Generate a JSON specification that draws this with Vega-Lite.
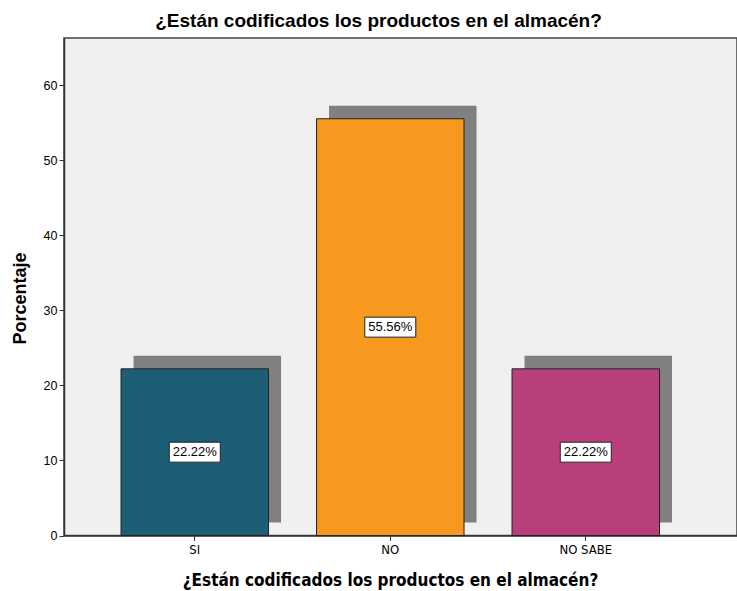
{
  "$schema": "https://vega.github.io/schema/vega-lite/v6.json",
  "autosize": "none",
  "width": 673,
  "height": 497.5,
  "padding": {"left": 64, "top": 38, "right": 0, "bottom": 55.5},
  "background": "white",
  "title": {
    "text": "¿Están codificados los productos en el almacén?",
    "font": "Liberation Sans",
    "fontSize": 19,
    "fontWeight": "bold",
    "color": "#000000",
    "anchor": "middle",
    "dx": -22,
    "offset": 7
  },
  "config": {
    "view": {"fill": "#f0f0f0", "stroke": "#444444", "strokeWidth": 1.5},
    "axis": {"grid": false, "domainColor": "#333333", "tickColor": "#333333", "labelColor": "#000000", "titleColor": "#000000"}
  },
  "data": {
    "values": [
      {"respuesta": "SI", "porcentaje": 22.22, "etiqueta": "22.22%"},
      {"respuesta": "NO", "porcentaje": 55.56, "etiqueta": "55.56%"},
      {"respuesta": "NO SABE", "porcentaje": 22.22, "etiqueta": "22.22%"}
    ]
  },
  "encoding": {
    "x": {
      "field": "respuesta",
      "type": "nominal",
      "sort": ["SI", "NO", "NO SABE"],
      "scale": {"paddingInner": 0.2455, "paddingOuter": 0.344, "align": 0.424},
      "axis": {
        "title": "¿Están codificados los productos en el almacén?",
        "titleFont": "DejaVu Sans Condensed, Liberation Sans",
        "titleFontSize": 17,
        "titleFontWeight": "bold",
        "titleX": 326,
        "titleY": 45,
        "titleBaseline": "middle",
        "labelAngle": 0,
        "labelFont": "DejaVu Sans Condensed, Liberation Sans",
        "labelFontSize": 13,
        "labelPadding": 3,
        "tickSize": 5,
        "domainWidth": 1.5
      }
    }
  },
  "layer": [
    {
      "mark": {"type": "bar", "color": "#808080", "xOffset": 12.5, "x2Offset": 12.5, "yOffset": -13, "y2Offset": -13},
      "encoding": {
        "y": {"field": "porcentaje", "type": "quantitative"}
      }
    },
    {
      "mark": {"type": "bar", "stroke": "#222222", "strokeWidth": 1},
      "encoding": {
        "y": {
          "field": "porcentaje",
          "type": "quantitative",
          "scale": {"domain": [0, 66.33], "nice": false},
          "axis": {
            "title": "Porcentaje",
            "titleFont": "Liberation Sans",
            "titleFontSize": 18,
            "titleFontWeight": "bold",
            "titleX": -44,
            "titleY": 260,
            "titleAngle": -90,
            "titleAlign": "center",
            "titleBaseline": "middle",
            "values": [0, 10, 20, 30, 40, 50, 60],
            "labelFont": "Liberation Sans",
            "labelFontSize": 12.5,
            "labelPadding": 2,
            "tickSize": 5,
            "domainWidth": 1.5
          }
        },
        "color": {
          "field": "respuesta",
          "type": "nominal",
          "scale": {"domain": ["SI", "NO", "NO SABE"], "range": ["#1c5e75", "#f7991f", "#b83f7a"]},
          "legend": null
        }
      }
    },
    {
      "transform": [{"calculate": "datum.porcentaje / 2", "as": "mitad"}],
      "mark": {"type": "point", "shape": "M-1,-0.392L1,-0.392L1,0.392L-1,0.392Z", "size": 2601, "filled": true, "fill": "white", "stroke": "#222222", "strokeWidth": 1, "opacity": 1},
      "encoding": {
        "y": {"field": "mitad", "type": "quantitative"}
      }
    },
    {
      "transform": [{"calculate": "datum.porcentaje / 2", "as": "mitad"}],
      "mark": {"type": "text", "font": "Liberation Sans", "fontSize": 13, "color": "#000000", "baseline": "middle", "align": "center"},
      "encoding": {
        "y": {"field": "mitad", "type": "quantitative"},
        "text": {"field": "etiqueta"}
      }
    }
  ]
}
